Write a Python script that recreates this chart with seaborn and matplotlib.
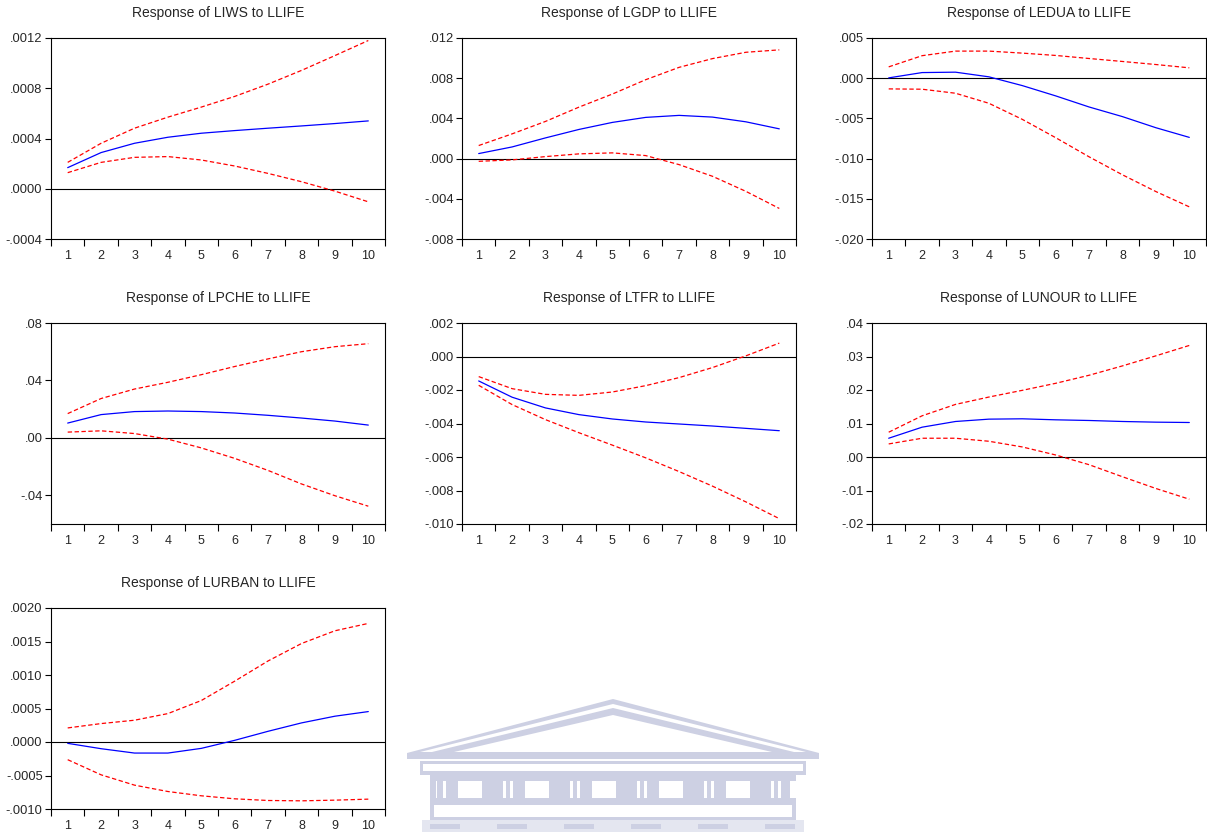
import numpy as np
import pandas as pd
import matplotlib
matplotlib.use('Agg')
import matplotlib.pyplot as plt
from matplotlib.patches import Polygon, Rectangle
from matplotlib.ticker import FuncFormatter
import seaborn as sns

periods = list(range(1, 11))
shock = 'LLIFE'
responders = ['LIWS', 'LGDP', 'LEDUA', 'LPCHE', 'LTFR', 'LUNOUR', 'LURBAN']

liws_resp = [0.000168, 0.000288, 0.000362, 0.00041, 0.000442, 0.000463, 0.000482, 0.0005, 0.000519, 0.00054]
liws_upper = [0.00021, 0.000362, 0.000482, 0.00057, 0.00065, 0.000735, 0.000833, 0.000942, 0.00106, 0.00118]
liws_lower = [0.000128, 0.00021, 0.00025, 0.000256, 0.000229, 0.000181, 0.000122, 0.000056, -0.000019, -0.000104]

lgdp_resp = [0.0005, 0.00116, 0.00206, 0.0029, 0.0036, 0.0041, 0.0043, 0.00413, 0.00366, 0.00296]
lgdp_upper = [0.0013, 0.00246, 0.0037, 0.00512, 0.00642, 0.00785, 0.00908, 0.00995, 0.01058, 0.01082]
lgdp_lower = [-0.00027, -0.00013, 0.0002, 0.00047, 0.00057, 0.0003, -0.0006, -0.00176, -0.00326, -0.00496]

ledua_resp = [0.00004, 0.0007, 0.00075, 0.00017, -0.00092, -0.0022, -0.00358, -0.00478, -0.00616, -0.00736]
ledua_upper = [0.00141, 0.0028, 0.00337, 0.00337, 0.00312, 0.00283, 0.00245, 0.00208, 0.0017, 0.00129]
ledua_lower = [-0.00133, -0.00137, -0.00187, -0.00312, -0.00512, -0.0074, -0.00978, -0.01202, -0.0141, -0.016]

lpche_resp = [0.0103, 0.0162, 0.0183, 0.0187, 0.0183, 0.0173, 0.0157, 0.0138, 0.0117, 0.0089]
lpche_upper = [0.0169, 0.0274, 0.034, 0.0387, 0.044, 0.0497, 0.055, 0.06, 0.0635, 0.0656]
lpche_lower = [0.004, 0.0049, 0.003, -0.0009, -0.007, -0.0143, -0.0227, -0.0321, -0.0403, -0.0476]

ltfr_resp = [-0.00146, -0.00243, -0.00307, -0.00347, -0.00373, -0.00391, -0.00403, -0.00415, -0.00429, -0.00443]
ltfr_upper = [-0.0012, -0.00192, -0.00226, -0.00232, -0.00212, -0.00174, -0.00126, -0.00066, 0.00004, 0.0008]
ltfr_lower = [-0.00172, -0.00287, -0.00377, -0.00455, -0.00529, -0.00605, -0.00687, -0.00774, -0.00868, -0.00968]

lunour_resp = [0.0056, 0.0089, 0.0106, 0.0113, 0.0114, 0.0111, 0.0109, 0.0106, 0.0104, 0.0103]
lunour_upper = [0.0074, 0.0123, 0.0157, 0.0179, 0.0199, 0.022, 0.0244, 0.0272, 0.0302, 0.0333]
lunour_lower = [0.0039, 0.0056, 0.0056, 0.0047, 0.003, 0.0006, -0.0023, -0.0059, -0.0094, -0.0126]

lurban_resp = [-0.00002, -0.0001, -0.000165, -0.000165, -0.000095, 0.000025, 0.00016, 0.000285, 0.000385, 0.000454]
lurban_upper = [0.00021, 0.000275, 0.000325, 0.000424, 0.000619, 0.000908, 0.00121, 0.00147, 0.00166, 0.00177]
lurban_lower = [-0.000264, -0.00049, -0.000644, -0.000739, -0.000803, -0.000848, -0.000873, -0.000878, -0.000868, -0.000853]

y_ticks = {
    'LIWS': [-0.0004, 0.0, 0.0004, 0.0008, 0.0012],
    'LGDP': [-0.008, -0.004, 0.0, 0.004, 0.008, 0.012],
    'LEDUA': [-0.020, -0.015, -0.010, -0.005, 0.0, 0.005],
    'LPCHE': [-0.04, 0.0, 0.04, 0.08],
    'LTFR': [-0.010, -0.008, -0.006, -0.004, -0.002, 0.0, 0.002],
    'LUNOUR': [-0.02, -0.01, 0.0, 0.01, 0.02, 0.03, 0.04],
    'LURBAN': [-0.0010, -0.0005, 0.0, 0.0005, 0.0010, 0.0015, 0.0020],
}
y_limits = {
    'LIWS': (-0.0004, 0.0012),
    'LGDP': (-0.008, 0.012),
    'LEDUA': (-0.020, 0.005),
    'LPCHE': (-0.06, 0.08),
    'LTFR': (-0.010, 0.002),
    'LUNOUR': (-0.02, 0.04),
    'LURBAN': (-0.0010, 0.0020),
}
y_decimals = {'LIWS': 4, 'LGDP': 3, 'LEDUA': 3, 'LPCHE': 2, 'LTFR': 3, 'LUNOUR': 2, 'LURBAN': 4}

series = {
    'LIWS': (liws_resp, liws_upper, liws_lower),
    'LGDP': (lgdp_resp, lgdp_upper, lgdp_lower),
    'LEDUA': (ledua_resp, ledua_upper, ledua_lower),
    'LPCHE': (lpche_resp, lpche_upper, lpche_lower),
    'LTFR': (ltfr_resp, ltfr_upper, ltfr_lower),
    'LUNOUR': (lunour_resp, lunour_upper, lunour_lower),
    'LURBAN': (lurban_resp, lurban_upper, lurban_lower),
}

sns.set_style('white')
plt.rcParams['font.family'] = ['Liberation Sans', 'DejaVu Sans']

W, H = 1207, 832
fig = plt.figure(figsize=(W / 100, H / 100), dpi=100)


def eviews_fmt(decimals):
    def fmt(v, pos):
        s = f'{abs(v):.{decimals}f}'
        if s.startswith('0'):
            s = s[1:]
        return ('-' if v < -1e-12 else '') + s
    return FuncFormatter(fmt)


def draw_watermark(fig):
    # faint building logo at the bottom centre of the page
    wm = fig.add_axes([0, 0, 1, 1], zorder=-5)
    wm.set_xlim(0, W)
    wm.set_ylim(H, 0)
    wm.axis('off')
    c = '#cdd0e3'
    light = '#e4e6f0'

    def poly(pts, col):
        wm.add_patch(Polygon(pts, closed=True, color=col, lw=0))

    def rect(x0, y0, x1, y1, col):
        wm.add_patch(Rectangle((x0, y0), x1 - x0, y1 - y0, color=col, lw=0))

    poly([(407, 753), (613, 699), (819, 753), (819, 759), (407, 759)], c)
    poly([(420, 752), (613, 704), (806, 752)], 'white')
    poly([(432, 752), (613, 708), (794, 752)], c)
    poly([(454, 752), (613, 715), (772, 752)], 'white')
    rect(420, 761, 806, 775, c)
    rect(423, 764, 803, 771, 'white')
    rect(430, 775, 796, 802, c)
    for k in range(6):
        x = 436 + k * 67
        rect(x, 781, x + 3, 798, 'white')
        rect(x + 7, 781, x + 10, 798, 'white')
        rect(x + 22, 781, x + 46, 798, 'white')
    rect(437, 781, 440, 798, c)
    rect(790, 781, 793, 798, 'white')
    rect(430, 802, 796, 820, c)
    rect(434, 805, 792, 817, 'white')
    rect(422, 820, 804, 832, light)
    for k in range(6):
        x = 430 + k * 67
        rect(x, 824, x + 30, 829, c)


draw_watermark(fig)

lefts = [51, 462, 872]
tops = [38, 323, 608]
ax_w, ax_h = 334, 201

for i, name in enumerate(responders):
    row, col = divmod(i, 3)
    left = lefts[col] / W
    bottom = (H - tops[row] - ax_h) / H
    ax = fig.add_axes([left, bottom, ax_w / W, ax_h / H])
    resp, upper, lower = series[name]
    df = pd.DataFrame({'period': periods, 'resp': resp, 'upper': upper, 'lower': lower})

    ax.axhline(0, color='black', lw=0.8, zorder=1)
    sns.lineplot(data=df, x='period', y='upper', ax=ax, color='red', lw=0.9, linestyle=(0, (3.5, 2)))
    sns.lineplot(data=df, x='period', y='lower', ax=ax, color='red', lw=0.9, linestyle=(0, (3.5, 2)))
    sns.lineplot(data=df, x='period', y='resp', ax=ax, color='blue', lw=0.9)

    ax.set_xlim(0.5, 10.5)
    ax.set_ylim(*y_limits[name])
    ax.set_xticks(periods)
    ax.set_xticks(np.arange(0.5, 11, 1.0), minor=True)
    ax.set_yticks(y_ticks[name])
    ax.yaxis.set_major_formatter(eviews_fmt(y_decimals[name]))
    ax.tick_params(axis='x', which='major', length=0, pad=8, labelsize=9)
    ax.tick_params(axis='x', which='minor', length=5, width=0.8, direction='out', bottom=True, color='black')
    ax.tick_params(axis='y', which='major', length=4, width=0.8, direction='out', left=True, pad=2,
                   labelsize=9.3, color='black')
    ax.set_xlabel('')
    ax.set_ylabel('')
    for sp in ax.spines.values():
        sp.set_color('black')
        sp.set_linewidth(0.8)
    ax.set_title(f'Response of {name} to {shock}', fontsize=10, pad=15)

fig.savefig('out.png', dpi=100, facecolor='white')
